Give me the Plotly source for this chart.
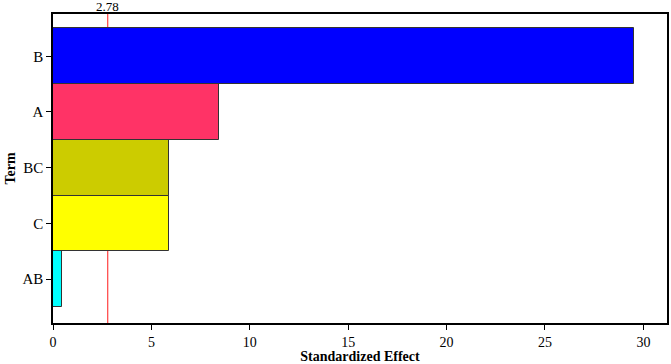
import plotly.graph_objects as go

terms = ["AB", "C", "BC", "A", "B"]
effects = [0.46, 5.88, 5.9, 8.45, 29.52]
colors = ["#00FFFF", "#FFFF00", "#CCCC00", "#FF3366", "#0000FF"]
threshold = 2.78
x_ticks = [0, 5, 10, 15, 20, 25, 30]

fig = go.Figure()
fig.add_trace(go.Bar(
    y=terms, x=effects, orientation="h",
    marker=dict(color=colors, line=dict(color="#333333", width=1)),
    width=1.0, showlegend=False,
))
fig.add_shape(type="line", x0=threshold, x1=threshold, y0=0, y1=1, yref="paper",
              layer="below", line=dict(color="#FF4040", width=1.2))
fig.add_annotation(x=threshold, y=1, yref="paper", text=f"{threshold:.2f}",
                   showarrow=False, yanchor="bottom", yshift=-1, borderpad=0,
                   font=dict(family="Liberation Serif", size=13, color="black"))

fig.update_layout(
    width=671, height=364,
    margin=dict(l=53, r=2, t=14, b=41),
    plot_bgcolor="white", paper_bgcolor="white",
    font=dict(family="Liberation Serif", size=14, color="black"),
    bargap=0,
)
fig.update_xaxes(range=[0, 31.2], tickvals=x_ticks, ticks="outside", ticklen=5,
                 tickcolor="black", showline=True, linecolor="black", linewidth=1.5,
                 mirror=True, showgrid=False, zeroline=False,
                 tickfont=dict(size=14),
                 title=dict(text="<b>Standardized Effect</b>", standoff=3,
                            font=dict(size=14)))
fig.update_yaxes(range=[-0.79, 4.76], ticks="outside", ticklen=5, tickcolor="black",
                 showline=True, linecolor="black", linewidth=1.5, mirror=True,
                 showgrid=False, zeroline=False, tickfont=dict(size=15),
                 title=dict(text="<b>Term</b>", standoff=4, font=dict(size=14)))

fig.write_html("out.html", config={"displayModeBar": False},
               post_script="document.body.style.margin='0';")
